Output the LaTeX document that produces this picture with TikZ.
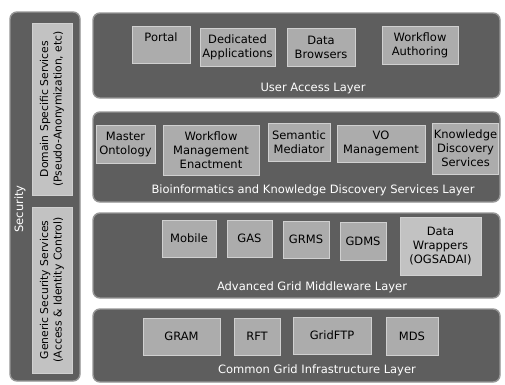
\documentclass[tikz,border=0pt]{standalone}
\usepackage{fontspec}
\setmainfont{DejaVu Sans}
\usetikzlibrary{positioning}
\definecolor{layergray}{RGB}{94,94,94}
\definecolor{layeredge}{RGB}{150,150,150}
\definecolor{itemgray}{RGB}{172,172,172}
\definecolor{itemedge}{RGB}{208,208,208}
\definecolor{itemlight}{RGB}{194,194,194}
\tikzset{layer/.style={draw=layeredge,fill=layergray,line width=1.4pt,rounded corners=7pt},
  item/.style={draw=itemedge,fill=itemgray,line width=1pt,align=center,inner sep=1pt,
    font=\fontsize{11.5}{14}\selectfont},
  layerlabel/.style={text=white,font=\fontsize{11.5}{14}\selectfont},
  sidebox/.style={draw=itemedge,fill=itemlight,line width=1pt,align=center,inner sep=1pt,
    rotate=90,font=\fontsize{10.8}{13.5}\selectfont}}

\begin{document}
\begin{tikzpicture}[x=1pt,y=-1pt]
\fill[white] (0,0) rectangle (505,384);
\useasboundingbox (0,0) rectangle (505,384);
% security column
\node[layer,minimum width=70,minimum height=369] (security) at (45,196.5) {};
\node[text=white,rotate=90,font=\fontsize{11.5}{14}\selectfont] (seclabel) at (20,209) {Security};
\node[sidebox,minimum width=172,minimum height=40] (domain) at (52,109)
 {Domain Specific Services\\(Pseudo-Anonymization, etc)};
\node[sidebox,minimum width=166,minimum height=40] (generic) at (52,290)
 {Generic Security Services\\(Access \& Identity Control)};
% user access layer
\node[layer,minimum width=407,minimum height=85] (user) at (296.5,55.5) {};
\node[item,minimum width=58,minimum height=37] (portal) at (161,44.5) {Portal\\~};
\node[item,minimum width=75,minimum height=38] (dedicated) at (237.5,47) {Dedicated\\Applications};
\node[item,minimum width=68,minimum height=38] (browsers) at (321,47) {Data\\Browsers};
\node[item,minimum width=76,minimum height=38] (authoring) at (420,45) {Workflow\\Authoring};
\node[layerlabel] (userlabel) at (313,88) {User Access Layer};
% bioinformatics layer
\node[layer,minimum width=407,minimum height=90] (bio) at (296.5,157) {};
\node[item,minimum width=59,minimum height=38] (ontology) at (125.5,144) {Master\\Ontology};
\node[item,minimum width=96,minimum height=50] (enactment) at (211,150) {Workflow\\Management\\Enactment};
\node[item,minimum width=62,minimum height=38] (mediator) at (299,142) {Semantic\\Mediator};
\node[item,minimum width=88,minimum height=37] (vo) at (381,143.5) {VO\\Management};
\node[item,minimum width=65,minimum height=51] (discovery) at (465.5,148.5) {Knowledge\\Discovery\\Services};
\node[layerlabel] (biolabel) at (313,190) {Bioinformatics and Knowledge Discovery Services Layer};
% middleware layer
\node[layer,minimum width=407,minimum height=85] (middleware) at (296.5,255.5) {};
\node[item,minimum width=54,minimum height=37] (mobile) at (189,238.5) {Mobile};
\node[item,minimum width=45,minimum height=37] (gas) at (249.5,238.5) {GAS};
\node[item,minimum width=46,minimum height=37] (grms) at (306,239.5) {GRMS};
\node[item,minimum width=46,minimum height=38] (gdms) at (363,241) {GDMS};
\node[item,fill=itemlight,minimum width=81,minimum height=58] (wrappers) at (440.5,246) {Data\\Wrappers\\(OGSADAI)};
\node[layerlabel] (midlabel) at (312,287) {Advanced Grid Middleware Layer};
% infrastructure layer
\node[layer,minimum width=407,minimum height=73] (infra) at (296.5,345.5) {};
\node[item,minimum width=77,minimum height=37] (gram) at (181.5,336.5) {GRAM};
\node[item,minimum width=46,minimum height=37] (rft) at (257,336.5) {RFT};
\node[item,minimum width=78,minimum height=37] (gridftp) at (332,335.5) {GridFTP};
\node[item,minimum width=52,minimum height=38] (mds) at (412,336) {MDS};
\node[layerlabel] (infralabel) at (317,370) {Common Grid Infrastructure Layer};
\end{tikzpicture}
\end{document}
